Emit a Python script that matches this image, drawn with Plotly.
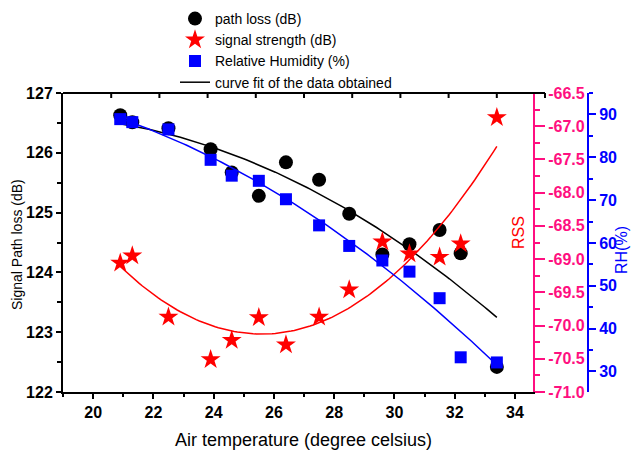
import numpy as np
import plotly.graph_objects as go

# ---- data ----
temp = [20.9, 21.3, 22.5, 23.9, 24.6, 25.5, 26.4, 27.5, 28.5, 29.6, 30.5, 31.5, 32.2, 33.4]
path_loss = [126.63, 126.51, 126.41, 126.06, 125.67, 125.28, 125.84, 125.55, 124.98, 124.30, 124.47, 124.71, 124.32, 122.42]
rss = [-69.06, -68.95, -69.87, -70.51, -70.22, -69.88, -70.29, -69.87, -69.46, -68.74, -68.92, -68.97, -68.77, -66.87]
rh = [88.9, 88.2, 86.5, 79.4, 75.7, 74.5, 70.2, 64.1, 59.3, 55.9, 53.3, 47.1, 33.3, 32.1]

rss_ticks = [-71.0, -70.5, -70.0, -69.5, -69.0, -68.5, -68.0, -67.5, -67.0, -66.5]
rss_ticktext = [f"{v:.1f}" for v in rss_ticks]

FONT = "Liberation Sans, Arial, sans-serif"
PINK = "#FF0F80"
RED = "#FF0000"
BLUE = "#0000FF"

# quadratic curve fits of the data
xt = np.array(temp)
xf = np.linspace(xt.min(), xt.max(), 120)
fit_pl = np.polyval(np.polyfit(xt, path_loss, 2), xf)
fit_rss = np.polyval(np.polyfit(xt, rss, 2), xf)
fit_rh = np.polyval(np.polyfit(xt, rh, 2), xf)

fig = go.Figure()
fig.add_trace(go.Scatter(x=temp, y=path_loss, mode="markers", name="path loss (dB)",
                         marker=dict(symbol="circle", size=14, color="black"), yaxis="y"))
fig.add_trace(go.Scatter(x=temp, y=rss, mode="markers", name="signal strength (dB)",
                         marker=dict(symbol="star", size=15, color=RED), yaxis="y2"))
fig.add_trace(go.Scatter(x=temp, y=rh, mode="markers", name="Relative Humidity (%)",
                         marker=dict(symbol="square", size=12, color=BLUE), yaxis="y3"))
fig.add_trace(go.Scatter(x=xf, y=fit_pl, mode="lines", name="curve fit of the data obtained",
                         line=dict(color="black", width=1.5), yaxis="y"))
fig.add_trace(go.Scatter(x=xf, y=fit_rss, mode="lines", showlegend=False,
                         line=dict(color=RED, width=1.5), yaxis="y2"))
fig.add_trace(go.Scatter(x=xf, y=fit_rh, mode="lines", showlegend=False,
                         line=dict(color=BLUE, width=1.5), yaxis="y3"))

L, R, T, B = 63, 44, 93, 59
W, H = 632, 451
PW = W - L - R
PH = H - T - B
xdom_end = (533 - L) / PW

def px(xp):
    return (xp - L) / PW

def py(yp):
    return (H - B - yp) / PH

tickfont_black = dict(family=FONT, size=16, color="black", weight="bold")

fig.update_layout(
    width=W, height=H,
    margin=dict(l=L, r=R, t=T, b=B, autoexpand=False),
    paper_bgcolor="white", plot_bgcolor="white",
    showlegend=True,
    legend=dict(x=px(175), y=py(3), xanchor="left", yanchor="top",
                font=dict(family=FONT, size=14, color="black"),
                bgcolor="rgba(0,0,0,0)", tracegroupgap=0),
    xaxis=dict(domain=[0, xdom_end], range=[19, 34.6], tick0=20, dtick=2,
               showline=True, linecolor="black", linewidth=2,
               ticks="outside", ticklen=5, tickwidth=2, tickcolor="black",
               minor=dict(dtick=1, ticks="outside", ticklen=3, tickwidth=2, tickcolor="black"),
               tickfont=tickfont_black, showgrid=False, zeroline=False),
    yaxis=dict(range=[122, 127], dtick=1,
               showline=True, linecolor="black", linewidth=2,
               ticks="outside", ticklen=5, tickwidth=2, tickcolor="black",
               minor=dict(dtick=0.5, ticks="outside", ticklen=4, tickwidth=2, tickcolor="black"),
               tickfont=tickfont_black, showgrid=False, zeroline=False),
    yaxis2=dict(overlaying="y", side="right", anchor="x", range=[-71, -66.5],
                tickvals=rss_ticks, ticktext=rss_ticktext,
                showline=True, linecolor=PINK, linewidth=2,
                ticks="outside", ticklen=10, tickwidth=2, tickcolor=PINK,
                minor=dict(dtick=0.25, ticks="outside", ticklen=5, tickwidth=2, tickcolor=PINK),
                tickfont=dict(family=FONT, size=16, color=PINK, weight="bold"),
                showgrid=False, zeroline=False),
    yaxis3=dict(overlaying="y", side="right", anchor="free", position=1.0, range=[25.2, 95],
                tick0=30, dtick=10,
                showline=True, linecolor=BLUE, linewidth=2,
                ticks="outside", ticklen=7, tickwidth=2, tickcolor=BLUE,
                minor=dict(dtick=5, ticks="outside", ticklen=4, tickwidth=2, tickcolor=BLUE),
                tickfont=dict(family=FONT, size=16, color=BLUE, weight="bold"),
                showgrid=False, zeroline=False),
)

# axis titles
def title(text, xp, yp, size, color, angle=0):
    fig.add_annotation(text=text, x=px(xp), y=py(yp), textangle=angle,
                       xref="paper", yref="paper", showarrow=False,
                       xanchor="center", yanchor="middle",
                       font=dict(family=FONT, size=size, color=color))

title("Air temperature (degree celsius)", 303, 440, 18, "black")
title("Signal Path loss (dB)", 17, 245, 14, "black", -90)
title("RSS", 518, 233, 16, RED, -90)
title("RH(%)", 621, 250, 16, BLUE, -90)

# top frame line with inward ticks
fig.add_shape(type="line", xref="paper", yref="paper", x0=0, x1=px(545), y0=1, y1=1,
              line=dict(color="black", width=2), layer="above")
for k in range(10):
    xp = 545 - 48.2 * k
    fig.add_shape(type="line", xref="paper", yref="paper", x0=px(xp), x1=px(xp),
                  y0=1, y1=py(T + 5), line=dict(color="black", width=2), layer="above")

fig.write_html("out.html", config={"displayModeBar": False},
               post_script="document.body.style.margin='0';")
